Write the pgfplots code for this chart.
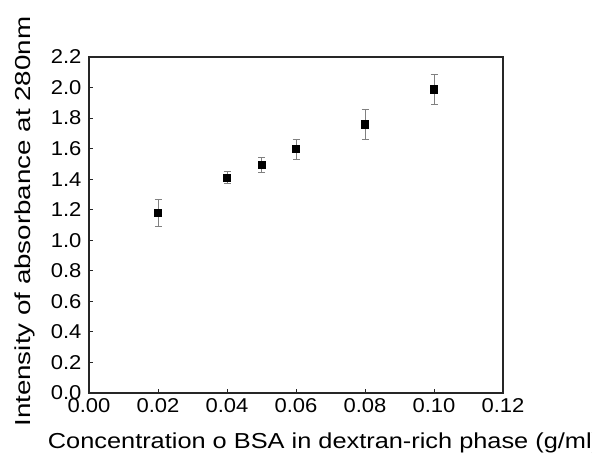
\documentclass[border=0pt]{standalone}
\usepackage{fontspec}
\setmainfont[FakeStretch=1.1]{Liberation Sans}
\newfontfamily\xlabfont[FakeStretch=1.17]{Liberation Sans}
\newfontfamily\ylabfont[FakeStretch=1.28]{Liberation Sans}
\usepackage{pgfplots}
\pgfplotsset{compat=1.18}

\begin{document}
\begin{tikzpicture}
  \begin{axis}[
      at={(53.4pt,40.2pt)}, anchor=south west,
      scale only axis, width=248.4pt, height=201.6pt,
      xmin=0, xmax=0.12, ymin=0, ymax=2.2,
      xtick={0,0.02,...,0.12}, ytick={0,0.2,...,2.2},
      xtick pos=lower, ytick pos=left, tick align=inside,
      major tick length=2.4pt,
      axis line style={black!85, line width=0.75pt},
      every tick/.style={black!85, line width=0.6pt},
      tick label style={font=\fontsize{12}{14}\selectfont},
      yticklabel style={xshift=-1pt},
      /pgf/number format/assume math mode=true,
      xticklabel style={/pgf/number format/.cd, fixed, fixed zerofill, precision=2},
      yticklabel style={/pgf/number format/.cd, fixed, fixed zerofill, precision=1},
      scaled x ticks=false,
      xlabel={Concentration o BSA in dextran-rich phase (g/ml)},
      xlabel style={font=\xlabfont\fontsize{13}{15}\selectfont,
        at={(axis description cs:-0.1135,-0.164)}, anchor=base west},
      ylabel={Intensity of absorbance at 280nm},
      ylabel style={font=\ylabfont\fontsize{13}{15}\selectfont,
        at={(axis description cs:-0.1425,0.51)}, anchor=base, rotate=0},
    ]
    \addplot[only marks, mark=square*, mark size=2.2pt, black,
      error bars/.cd, y dir=both, y explicit,
      error bar style={gray, line width=0.5pt},
      error mark options={rotate=90, mark size=2.1pt, gray, line width=0.5pt}]
      coordinates {
        (0.02,1.18) +- (0,0.09)
        (0.04,1.41) +- (0,0.04)
        (0.05,1.495) +- (0,0.05)
        (0.06,1.597) +- (0,0.066)
        (0.08,1.759) +- (0,0.098)
        (0.10,1.988) +- (0,0.099)
      };
  \end{axis}
  \pgfresetboundingbox
  \useasboundingbox (0,0) rectangle (355.2pt,276pt);
\end{tikzpicture}
\end{document}
